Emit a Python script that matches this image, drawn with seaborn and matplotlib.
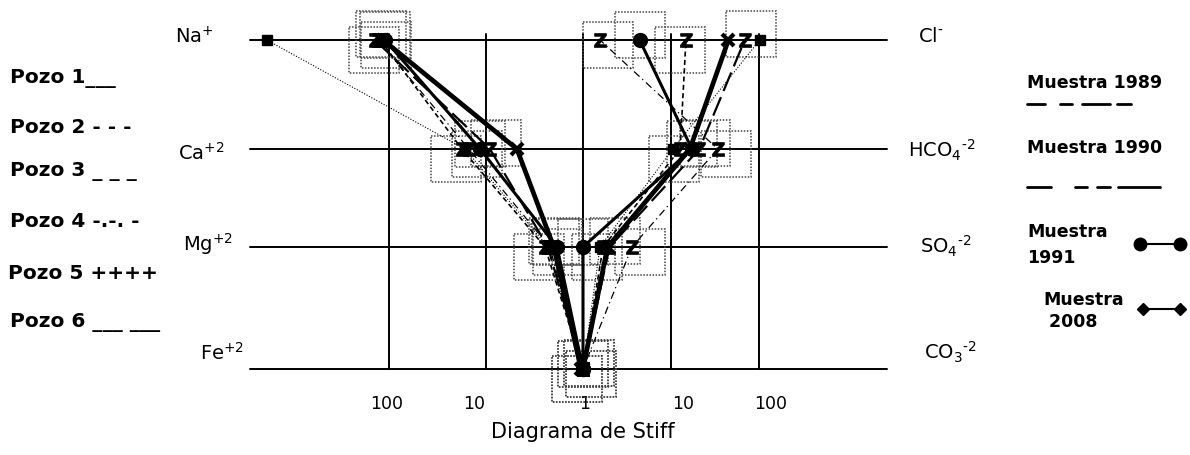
import numpy as np
import pandas as pd
import matplotlib
matplotlib.use("Agg")
import matplotlib.pyplot as plt
import seaborn as sns
from matplotlib.patches import Rectangle

# ---------------- data ----------------
HY = "\u2010"
cations = ["Na", "Ca", "Mg", "Fe"]
anions = ["Cl", "HCO4", "SO4", "CO3"]
cation_labels = [r"Na$^{+}$", r"Ca$^{+2}$", r"Mg$^{+2}$", r"Fe$^{+2}$"]
anion_labels = ["Cl$^{" + HY + "}$", "HCO$_4$$^{" + HY + "2}$",
                "SO$_4$$^{" + HY + "2}$", "CO$_3$$^{" + HY + "2}$"]
tick_labels = ["100", "10", "1", "10", "100"]
pozo_labels = ["Pozo 1___", "Pozo 2 - - -", "Pozo 3 _ _ _", "Pozo 4 -.-. -",
               "Pozo 5 ++++", "Pozo 6 ___ ___"]
muestra_labels = ["Muestra 1989", "Muestra 1990", "Muestra\n1991", "Muestra\n 2008"]
x_title = "Diagrama de Stiff"

# meq/L values: cations [Na, Ca, Mg, Fe], anions [Cl, HCO4, SO4, CO3]
s1_cat = [115, 4.8, 2.0, 1.05]
s1_an = [45, 16.4, 1.9, 1.0]
s2_cat = [110, 11.5, 1.85, 1.0]
s2_an = [4.4, 17.3, 1.0, 1.0]
s3_cat = [1820, 16.5, 2.3, 1.0]
s3_an = [102, 10.5, 1.56, 1.0]
s4_cat = [130, 15.0, 2.2, 1.0]
s4_an = [1.56, 34, 3.6, 1.0]
s5_cat = [123, 17.7, 2.46, 1.0]
s5_an = [14.8, 12.7, 1.69, 1.0]
s6_cat = [140, 9.1, 2.3, 1.0]
s6_an = [69, 21, 2.0, 1.0]

series = [
    dict(cat=s1_cat, an=s1_an, ls="-", lw=3.4, marker="x", ms=9, mew=3, box=None),
    dict(cat=s2_cat, an=s2_an, ls="-", lw=2.2, marker="o", ms=10, mew=1, box=(0, -5)),
    dict(cat=s3_cat, an=s3_an, ls=(0, (1, 1.5)), lw=0.8, marker="s", ms=7, mew=1, box=None),
    dict(cat=s4_cat, an=s4_an, ls=(0, (6, 3, 1, 3)), lw=0.9, marker=r"$\mathbf{Z}$", ms=10, mew=0.5, box=(8, 5)),
    dict(cat=s5_cat, an=s5_an, ls=(0, (3, 2)), lw=1.2, marker=r"$\mathbf{Z}$", ms=10, mew=0.5, box=(-6, 10)),
    dict(cat=s6_cat, an=s6_an, ls=(0, (9, 3)), lw=1.6, marker=r"$\mathbf{Z}$", ms=10, mew=0.5, box=(6, -6)),
]

# ---------------- layout ----------------
W, H = 1190, 456
CENTER_PX = 583
DEC_PX = 97.0
RIGHT_SCALE = 0.907
ROW_Y = [41, 150, 248, 370]


def px(xp):
    return (xp - CENTER_PX) / DEC_PX


def stiff_x(values, side):
    v = np.log10(np.asarray(values, dtype=float))
    return -v if side == "left" else v * RIGHT_SCALE


sns.set_style("white")
plt.rcParams["font.family"] = ["DejaVu Sans"]
plt.rcParams["mathtext.default"] = "regular"
plt.rcParams["text.color"] = "black"

fig = plt.figure(figsize=(W / 100, H / 100), dpi=100)
ax = fig.add_axes([0, 0, 1, 1])
ax.set_xlim(px(0), px(W))
ax.set_ylim(H, 0)
ax.axis("off")

# frame lines of the diagram
for y in ROW_Y:
    ax.plot([px(250), px(887)], [y, y], color="black", lw=1.4, zorder=1)
for xv in [-2, -1, 0, RIGHT_SCALE, 2 * RIGHT_SCALE]:
    ax.plot([xv, xv], [35, ROW_Y[-1]], color="black", lw=1.4, zorder=1)

# tick labels
for lab, xp in zip(tick_labels, [387, 474, 585, 683, 771]):
    ax.text(px(xp), 404, lab, ha="center", va="center", fontsize=12.5)
ax.text(px(583), 432, x_title, ha="center", va="center", fontsize=15)

# ion labels
for lab, y, xr in zip(cation_labels, [37, 153, 244, 353], [214, 224, 233, 244]):
    ax.text(px(xr), y, lab, ha="right", va="center", fontsize=14)
for lab, y, xl in zip(anion_labels, [37, 150, 246, 352], [918, 908, 920, 924]):
    ax.text(px(xl), y, lab, ha="left", va="center", fontsize=14)

# series
rows_poly = ROW_Y + ROW_Y[::-1]
for s in series:
    xs = np.concatenate([stiff_x(s["cat"], "left"), stiff_x(s["an"][::-1], "right")])
    df = pd.DataFrame({"x": xs, "y": rows_poly})
    sns.lineplot(data=df, x="x", y="y", sort=False, estimator=None, ax=ax,
                 color="black", lw=s["lw"], linestyle=s["ls"], marker=s["marker"],
                 markersize=s["ms"], markeredgewidth=s["mew"], markeredgecolor="black",
                 markerfacecolor="black", zorder=3)
    if s["box"] is not None:
        dx, dy = s["box"]
        for xv, yv in zip(xs, rows_poly):
            ax.add_patch(Rectangle((xv + px(CENTER_PX + dx - 25), yv + dy - 23),
                                   50 / DEC_PX, 46, fill=False, ec="#444444",
                                   lw=1.1, ls=(0, (1, 1)), zorder=2))

# left legend texts
for lab, y, xl in zip(pozo_labels, [78, 128, 172, 222, 274, 323], [10, 10, 10, 10, 8, 10]):
    ax.text(px(xl), y, lab, ha="left", va="center", fontsize=14.5, fontweight="bold")

# right legend texts
ax.text(px(1027), 83, muestra_labels[0], ha="left", va="center", fontsize=12.5, fontweight="bold")
ax.text(px(1027), 148, muestra_labels[1], ha="left", va="center", fontsize=12.5, fontweight="bold")
ax.text(px(1027), 245, muestra_labels[2], ha="left", va="center", fontsize=12.5,
        fontweight="bold", linespacing=1.6)
ax.text(px(1043), 311, muestra_labels[3], ha="left", va="center", fontsize=12.5,
        fontweight="bold", linespacing=1.3)

for a, b in [(1027, 1045), (1060, 1072), (1082, 1110), (1117, 1131)]:
    ax.plot([px(a), px(b)], [105, 105], color="black", lw=2)
for a, b in [(1027, 1051), (1075, 1087), (1097, 1110), (1118, 1160)]:
    ax.plot([px(a), px(b)], [188, 188], color="black", lw=2)
ax.plot([px(1140), px(1180)], [245, 245], color="black", lw=1.5, marker="o", ms=9)
ax.plot([px(1143), px(1180)], [310, 310], color="black", lw=1.5, marker="D", ms=6)

fig.savefig("out.png", dpi=100)
